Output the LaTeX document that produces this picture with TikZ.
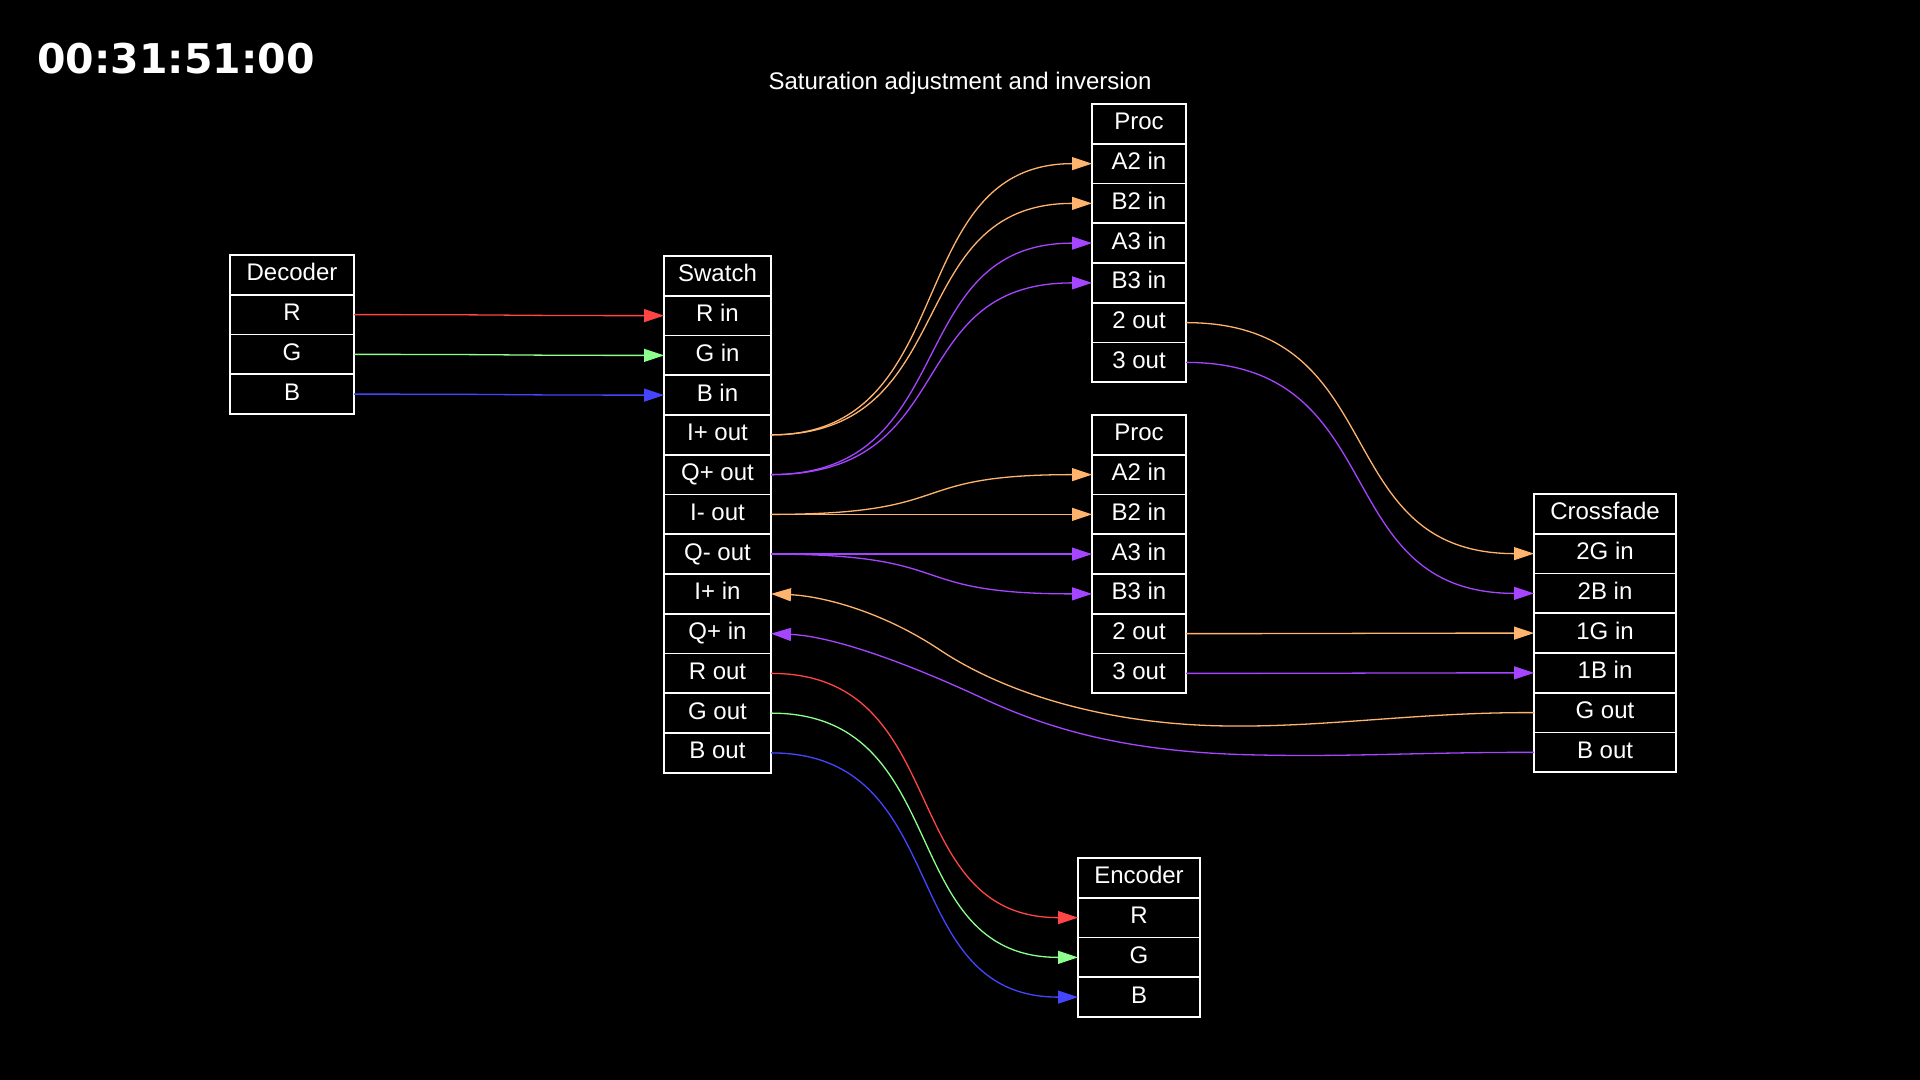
\documentclass[tikz,border=0pt]{standalone}
\usepackage{fontspec}
\setmainfont{Liberation Sans}
\newfontfamily\tcfont{DejaVu Sans}
\usetikzlibrary{arrows.meta,calc}
\definecolor{cR}{HTML}{FF4545}
\definecolor{cG}{HTML}{8CFF8C}
\definecolor{cB}{HTML}{4545FF}
\definecolor{cO}{HTML}{FFB46E}
\definecolor{cP}{HTML}{A545FF}
% name, left x, top y, width, labels
\newcommand\mkrec[5]{%
  \foreach \lab [count=\i from 0] in {#5}{%
    \node[cell,minimum width=#4*0.5pt] (#1-\i) at (#2,{#3+\i*39.75}) {\lab};}}
\begin{document}
\begin{tikzpicture}[x=0.5pt,y=-0.5pt,
  cell/.style={draw=white,line width=0.85pt,text=white,inner sep=0pt,
    outer sep=0pt,minimum height=19.875pt,text height=8.6pt,text depth=2.5pt,
    font=\fontsize{12pt}{14pt}\selectfont,anchor=north west},
  e/.style={line width=0.65pt,-{Triangle[length=10pt,width=6.5pt]}},
  sp/.style={to path={let \p1=(\tikztostart), \p2=(\tikztotarget) in
    .. controls +({0.6*(\x2-\x1)},0pt) and +({-0.6*(\x2-\x1)},0pt) .. (\tikztotarget) \tikztonodes}}]
\fill[black] (0,0) rectangle (1920,1080);
\useasboundingbox (0,0) rectangle (1920,1080);

\node[anchor=base west,inner sep=0pt,text=white,
  font=\tcfont\bfseries\fontsize{20.5pt}{24pt}\selectfont] (tc) at (37,73.5) {00:31:51:00};
\node[anchor=base,inner sep=0pt,text=white,font=\fontsize{12pt}{14pt}\selectfont]
  (title) at (960,90) {Saturation adjustment and inversion};

\mkrec{dec}{230}{255}{124}{Decoder,R,G,B}
\mkrec{sw}{664}{256}{107}{Swatch,R in,G in,B in,I+ out,Q+ out,I- out,Q- out,I+ in,Q+ in,R out,G out,B out}
\mkrec{pa}{1092}{104}{94}{Proc,A2 in,B2 in,A3 in,B3 in,2 out,3 out}
\mkrec{pb}{1092}{415}{94}{Proc,A2 in,B2 in,A3 in,B3 in,2 out,3 out}
\mkrec{cf}{1534}{494}{142}{Crossfade,2G in,2B in,1G in,1B in,G out,B out}
\mkrec{enc}{1078}{858}{122}{Encoder,R,G,B}

\draw[e,cR] (dec-1.east) to[sp] (sw-1.west);
\draw[e,cG] (dec-2.east) to[sp] (sw-2.west);
\draw[e,cB] (dec-3.east) to[sp] (sw-3.west);
\draw[e,cO] (sw-4.east) to[sp] (pa-1.west);
\draw[e,cO] (sw-4.east) to[sp] (pa-2.west);
\draw[e,cP] (sw-5.east) to[sp] (pa-3.west);
\draw[e,cP] (sw-5.east) to[sp] (pa-4.west);
\draw[e,cO] (sw-6.east) to[sp] (pb-1.west);
\draw[e,cO] (sw-6.east) to[sp] (pb-2.west);
\draw[e,cP] (sw-7.east) to[sp] (pb-3.west);
\draw[e,cP] (sw-7.east) to[sp] (pb-4.west);
\draw[e,cO] (pa-5.east) to[sp] (cf-1.west);
\draw[e,cP] (pa-6.east) to[sp] (cf-2.west);
\draw[e,cO] (pb-5.east) to[sp] (cf-3.west);
\draw[e,cP] (pb-6.east) to[sp] (cf-4.west);
\draw[e,cR] (sw-10.east) to[sp] (enc-1.west);
\draw[e,cG] (sw-11.east) to[sp] (enc-2.west);
\draw[e,cB] (sw-12.east) to[sp] (enc-3.west);
\draw[e,cO] (cf-5.west) .. controls (1420,712) and (1330,727) .. (1230,726)
  .. controls (1100,725) and (1000,690) .. (940,650)
  .. controls (880,610) and (820,596) .. (sw-8.east);
\draw[e,cP] (cf-6.west) .. controls (1430,752) and (1350,757) .. (1260,755)
  .. controls (1130,753) and (1050,730) .. (980,697)
  .. controls (900,660) and (830,636) .. (sw-9.east);
\end{tikzpicture}
\end{document}
